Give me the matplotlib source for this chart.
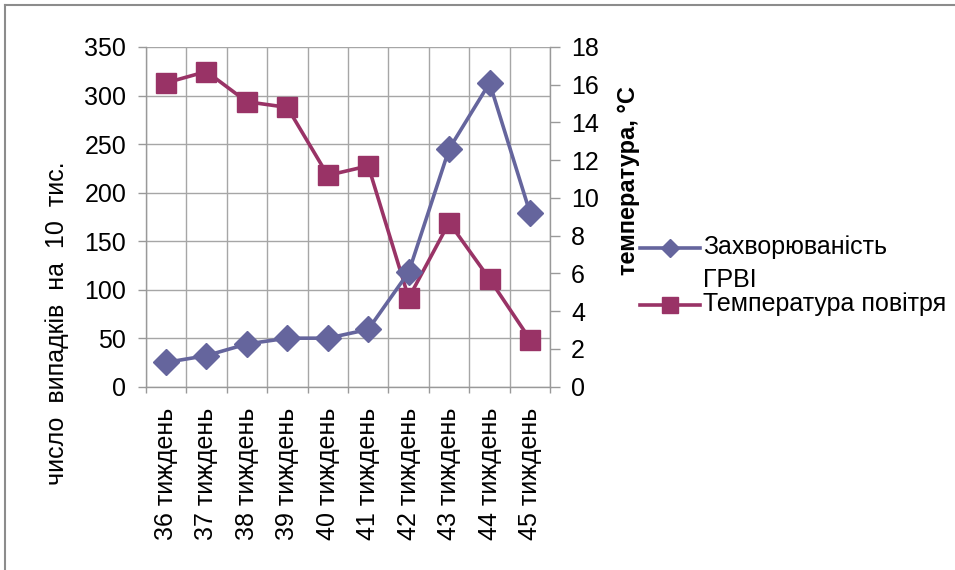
import numpy as np
import matplotlib
matplotlib.use("Agg")
import matplotlib.pyplot as plt
from matplotlib.lines import Line2D

plt.rcParams['font.family'] = ['Liberation Sans', 'DejaVu Sans']

# data
weeks = ["36 тиждень", "37 тиждень", "38 тиждень", "39 тиждень", "40 тиждень",
         "41 тиждень", "42 тиждень", "43 тиждень", "44 тиждень", "45 тиждень"]
incidence = [25, 32, 44, 50, 50, 59, 118, 245, 313, 179]
temperature = [16.1, 16.7, 15.1, 14.8, 11.2, 11.7, 4.7, 8.7, 5.7, 2.5]
series_names = ["Захворюваність\nГРВІ", "Температура повітря"]
left_ticks = list(range(0, 351, 50))
right_ticks = list(range(0, 19, 2))
left_label = "число  випадків  на  10  тис."
right_label = "температура, °С"

C_INC = "#65659d"
C_TEMP = "#993366"
C_GRID = "#a6a6a6"
C_AXIS = "#999999"

W, H = 955, 570
fig = plt.figure(figsize=(W / 100, H / 100), dpi=100)


def fx(px):
    return px / W


def fy(py):
    return 1 - py / H


x0, x1, y0, y1 = 145.7, 550.3, 386.7, 47.0
ax1 = fig.add_axes([fx(x0), fy(y0), fx(x1) - fx(x0), fy(y1) - fy(y0)])
ax2 = ax1.twinx()
ax3 = ax1.twinx()
ax3.sharey(ax1)

xs = np.arange(len(weeks)) + 0.5

# left (incidence) scale, grid
ax1.set_xlim(0, len(weeks))
ax1.set_ylim(0, 350)
ax1.set_yticks(left_ticks)
ax1.set_xticks(xs)
ax1.set_xticklabels(weeks, rotation=90, fontsize=18)
ax1.set_xticks(np.arange(len(weeks) + 1), minor=True)
ax1.grid(True, which='major', axis='y', color=C_GRID, linewidth=1.0)
ax1.grid(True, which='minor', axis='x', color=C_GRID, linewidth=1.0)
ax1.tick_params(axis='x', which='major', length=0, pad=15)
ax1.tick_params(axis='x', which='minor', length=4, color=C_AXIS, width=1.0, direction='out')
ax1.tick_params(axis='y', which='major', length=6, color=C_AXIS, width=1.0,
                labelsize=18, pad=8, direction='out')
for s in ('top', 'right'):
    ax1.spines[s].set_visible(False)
for s in ('left', 'bottom'):
    ax1.spines[s].set_color(C_AXIS)
    ax1.spines[s].set_linewidth(1.0)
ax1.set_axisbelow(True)

# right (temperature) scale
ax2.set_ylim(0, 18)
ax2.set_yticks(right_ticks)
ax2.tick_params(axis='y', length=7, color=C_AXIS, width=1.0, labelsize=18,
                pad=8, direction='out')
for s in ('top', 'left', 'bottom'):
    ax2.spines[s].set_visible(False)
ax2.spines['right'].set_color(C_AXIS)
ax2.spines['right'].set_linewidth(1.0)
ax2.plot(xs, temperature, color=C_TEMP, linewidth=2.6, marker='s',
         markersize=14, markerfacecolor=C_TEMP, markeredgecolor=C_TEMP,
         clip_on=False)

# incidence line drawn on top
ax3.axis('off')
ax3.plot(xs, incidence, color=C_INC, linewidth=2.6, marker='D',
         markersize=13, markerfacecolor=C_INC, markeredgecolor=C_INC,
         clip_on=False)

# axis titles
fig.text(fx(57), fy(323), left_label, rotation=90, ha='center', va='center',
         fontsize=18)
fig.text(fx(628), fy(181), right_label, rotation=90, ha='center', va='center',
         fontsize=17, fontweight='bold')

# legend
leg_rows = [(248, 'D', 9, C_INC, series_names[0]),
            (305, 's', 11, C_TEMP, series_names[1])]
for py, mk, ms, col, name in leg_rows:
    fig.add_artist(Line2D([fx(640), fx(700)], [fy(py), fy(py)], color=col,
                          linewidth=2.6, transform=fig.transFigure))
    fig.add_artist(Line2D([fx(670)], [fy(py)], marker=mk, markersize=ms,
                          color=col, linestyle='none', transform=fig.transFigure))
    lines = name.split("\n")
    for i, t in enumerate(lines):
        fig.text(fx(703), fy(py - 1 + i * 33), t, ha='left', va='center',
                 fontsize=18)

# outer frame (top and left edges)
fig.add_artist(Line2D([fx(5), 1], [fy(4.5), fy(4.5)], color='#8c8c8c',
                      linewidth=1.5, transform=fig.transFigure))
fig.add_artist(Line2D([fx(5), fx(5)], [0, fy(4.5)], color='#8c8c8c',
                      linewidth=1.5, transform=fig.transFigure))

fig.savefig("out.png", dpi=100)
